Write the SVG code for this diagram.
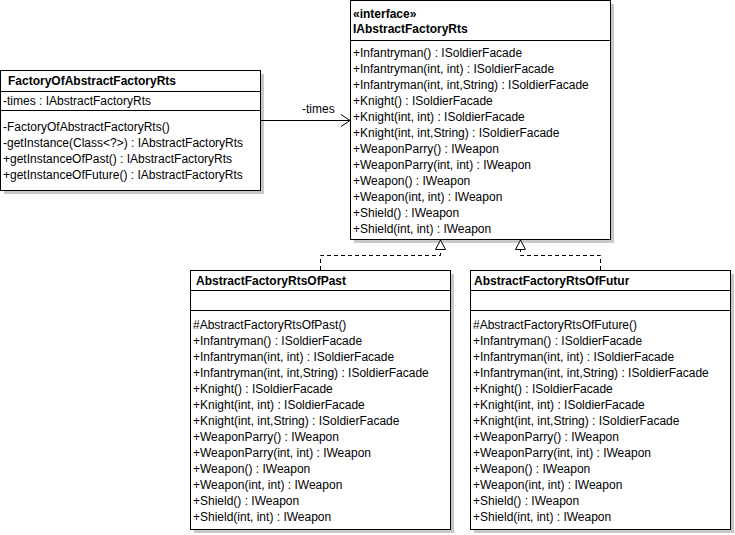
<svg xmlns="http://www.w3.org/2000/svg" width="735" height="535" viewBox="0 0 735 535">
<style>
text{font-family:"Liberation Sans",Arial,sans-serif;font-size:12px;fill:#000}
.b{font-weight:bold}
.box{fill:#fff;stroke:#000;stroke-width:1}
.sh{fill:#c8c8c8}
.sep{stroke:#000;stroke-width:1}
.dash{fill:none;stroke:#000;stroke-width:1;stroke-dasharray:4,3}
.ln{fill:none;stroke:#000;stroke-width:1}
</style>
<rect width="735" height="535" fill="#fff"/>
<g id="FactoryOfAbstractFactoryRts">
<rect class="sh" x="4" y="74" width="260" height="120"/>
<rect class="box" x="0.5" y="70.5" width="260" height="120"/>
<line class="sep" x1="0.5" y1="91.5" x2="260.5" y2="91.5"/>
<line class="sep" x1="0.5" y1="110.5" x2="260.5" y2="110.5"/>
<text class="b" x="8" y="85">FactoryOfAbstractFactoryRts</text>
<text x="3" y="105">-times : IAbstractFactoryRts</text>
<text x="3" y="131">-FactoryOfAbstractFactoryRts()</text>
<text x="3" y="147">-getInstance(Class&lt;?&gt;) : IAbstractFactoryRts</text>
<text x="3" y="163">+getInstanceOfPast() : IAbstractFactoryRts</text>
<text x="3" y="179">+getInstanceOfFuture() : IAbstractFactoryRts</text>
</g>
<g id="IAbstractFactoryRts">
<rect class="sh" x="354" y="4" width="260" height="239"/>
<rect class="box" x="350.5" y="0.5" width="260" height="239"/>
<line class="sep" x1="350.5" y1="40.5" x2="610.5" y2="40.5"/>
<text class="b" x="353" y="18">«interface»</text>
<text class="b" x="353" y="33">IAbstractFactoryRts</text>
<text x="353" y="57">+Infantryman() : ISoldierFacade</text>
<text x="353" y="73">+Infantryman(int, int) : ISoldierFacade</text>
<text x="353" y="89">+Infantryman(int, int,String) : ISoldierFacade</text>
<text x="353" y="105">+Knight() : ISoldierFacade</text>
<text x="353" y="121">+Knight(int, int) : ISoldierFacade</text>
<text x="353" y="137">+Knight(int, int,String) : ISoldierFacade</text>
<text x="353" y="153">+WeaponParry() : IWeapon</text>
<text x="353" y="169">+WeaponParry(int, int) : IWeapon</text>
<text x="353" y="185">+Weapon() : IWeapon</text>
<text x="353" y="201">+Weapon(int, int) : IWeapon</text>
<text x="353" y="217">+Shield() : IWeapon</text>
<text x="353" y="233">+Shield(int, int) : IWeapon</text>
</g>
<g id="AbstractFactoryRtsOfPast">
<rect class="sh" x="194" y="274" width="260" height="259"/>
<rect class="box" x="190.5" y="270.5" width="260" height="259"/>
<line class="sep" x1="190.5" y1="290.5" x2="450.5" y2="290.5"/>
<line class="sep" x1="190.5" y1="310.5" x2="450.5" y2="310.5"/>
<text class="b" x="196" y="285">AbstractFactoryRtsOfPast</text>
<text x="193" y="329">#AbstractFactoryRtsOfPast()</text>
<text x="193" y="345">+Infantryman() : ISoldierFacade</text>
<text x="193" y="361">+Infantryman(int, int) : ISoldierFacade</text>
<text x="193" y="377">+Infantryman(int, int,String) : ISoldierFacade</text>
<text x="193" y="393">+Knight() : ISoldierFacade</text>
<text x="193" y="409">+Knight(int, int) : ISoldierFacade</text>
<text x="193" y="425">+Knight(int, int,String) : ISoldierFacade</text>
<text x="193" y="441">+WeaponParry() : IWeapon</text>
<text x="193" y="457">+WeaponParry(int, int) : IWeapon</text>
<text x="193" y="473">+Weapon() : IWeapon</text>
<text x="193" y="489">+Weapon(int, int) : IWeapon</text>
<text x="193" y="505">+Shield() : IWeapon</text>
<text x="193" y="521">+Shield(int, int) : IWeapon</text>
</g>
<g id="AbstractFactoryRtsOfFutur">
<rect class="sh" x="474" y="274" width="260" height="259"/>
<rect class="box" x="470.5" y="270.5" width="260" height="259"/>
<line class="sep" x1="470.5" y1="290.5" x2="730.5" y2="290.5"/>
<line class="sep" x1="470.5" y1="310.5" x2="730.5" y2="310.5"/>
<text class="b" x="474" y="285">AbstractFactoryRtsOfFutur</text>
<text x="473" y="329">#AbstractFactoryRtsOfFuture()</text>
<text x="473" y="345">+Infantryman() : ISoldierFacade</text>
<text x="473" y="361">+Infantryman(int, int) : ISoldierFacade</text>
<text x="473" y="377">+Infantryman(int, int,String) : ISoldierFacade</text>
<text x="473" y="393">+Knight() : ISoldierFacade</text>
<text x="473" y="409">+Knight(int, int) : ISoldierFacade</text>
<text x="473" y="425">+Knight(int, int,String) : ISoldierFacade</text>
<text x="473" y="441">+WeaponParry() : IWeapon</text>
<text x="473" y="457">+WeaponParry(int, int) : IWeapon</text>
<text x="473" y="473">+Weapon() : IWeapon</text>
<text x="473" y="489">+Weapon(int, int) : IWeapon</text>
<text x="473" y="505">+Shield() : IWeapon</text>
<text x="473" y="521">+Shield(int, int) : IWeapon</text>
</g>
<g id="connectors">
<line class="ln" x1="261" y1="120.5" x2="350" y2="120.5"/>
<polyline class="ln" points="341,114.5 350,120.5 341,126.5"/>
<text x="302" y="113">-times</text>
<polyline class="dash" points="320.5,270 320.5,255.5 440.5,255.5 440.5,249"/>
<polygon class="box" points="440.5,240 435.5,249.5 445.5,249.5"/>
<polyline class="dash" points="600.5,270 600.5,255.5 520.5,255.5 520.5,249"/>
<polygon class="box" points="520.5,240 515.5,249.5 525.5,249.5"/>
</g>
</svg>
